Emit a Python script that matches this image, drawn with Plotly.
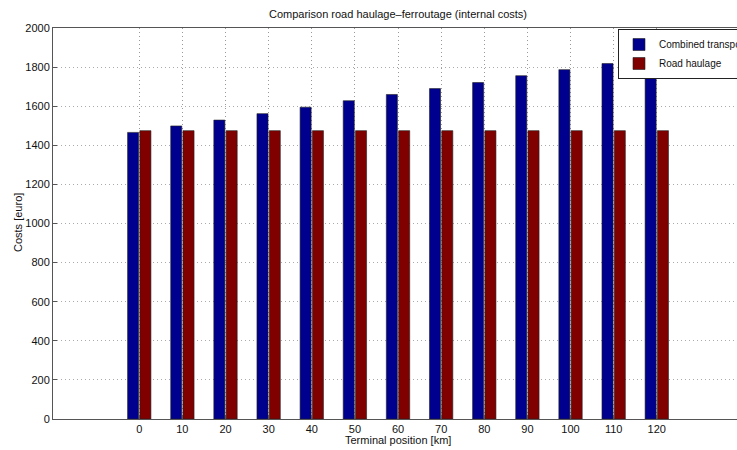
import plotly.graph_objects as go

terminal_km = [0, 10, 20, 30, 40, 50, 60, 70, 80, 90, 100, 110, 120]
combined_transport = [1466, 1499, 1529, 1562, 1595, 1628, 1660, 1690, 1721, 1756, 1787, 1818, 1850]
road_haulage = [1475] * 13
y_ticks = [0, 200, 400, 600, 800, 1000, 1200, 1400, 1600, 1800, 2000]

FONT = "Liberation Sans, Arial, sans-serif"
BLUE = "#00008F"
RED = "#800000"

fig = go.Figure()
fig.add_trace(go.Bar(x=terminal_km, y=combined_transport, name="Combined transport",
                     marker=dict(color=BLUE, line=dict(color="#202020", width=0.6))))
fig.add_trace(go.Bar(x=terminal_km, y=road_haulage, name="Road haulage",
                     marker=dict(color=RED, line=dict(color="#202020", width=0.6))))

fig.update_layout(
    width=737, height=450,
    margin=dict(l=53, r=0, t=28, b=31, autoexpand=False),
    paper_bgcolor="white", plot_bgcolor="white",
    barmode="group", bargap=0.43, bargroupgap=0.1,
    font=dict(family=FONT, size=11, color="#111"),
    title=dict(text="Comparison road haulage\u2013ferroutage (internal costs)",
               x=(398 / 737), xanchor="center", y=1 - 14 / 450, yanchor="middle",
               font=dict(family=FONT, size=11, color="#111")),
    xaxis=dict(range=[-20, 138.6], tickvals=terminal_km, ticktext=[str(v) for v in terminal_km],
               showline=True, linecolor="#555", linewidth=1, mirror=True,
               ticks="inside", ticklen=4, tickcolor="#555",
               showgrid=True, gridcolor="#999", griddash="1px,3px", gridwidth=1,
               zeroline=False, tickfont=dict(size=11)),
    yaxis=dict(range=[0, 2000], tickvals=y_ticks,
               showline=True, linecolor="#555", linewidth=1, mirror=True,
               ticks="inside", ticklen=4, tickcolor="#555",
               showgrid=True, gridcolor="#aaa", griddash="1px,3px", gridwidth=1,
               zeroline=False, tickfont=dict(size=11)),
    showlegend=True,
    legend=dict(x=(618 - 53) / 684, xanchor="left", y=1 - 1 / 391, yanchor="top",
                bgcolor="white", bordercolor="#222", borderwidth=1,
                font=dict(family=FONT, size=10, color="#111"),
                tracegroupgap=0, itemwidth=30),
    annotations=[
        dict(text="Terminal position [km]", xref="paper", yref="paper",
             x=(398 - 53) / 684, y=(419 - 440) / 391, xanchor="center", yanchor="middle",
             showarrow=False, font=dict(family=FONT, size=11, color="#111")),
        dict(text="Costs [euro]", xref="paper", yref="paper", textangle=-90,
             x=(18 - 53) / 684, y=(419 - 223) / 391, xanchor="center", yanchor="middle",
             showarrow=False, font=dict(family=FONT, size=11, color="#111")),
    ],
)

fig.write_html("out.html", config={"displayModeBar": False},
               post_script="document.body.style.margin='0';document.body.style.padding='0';")
